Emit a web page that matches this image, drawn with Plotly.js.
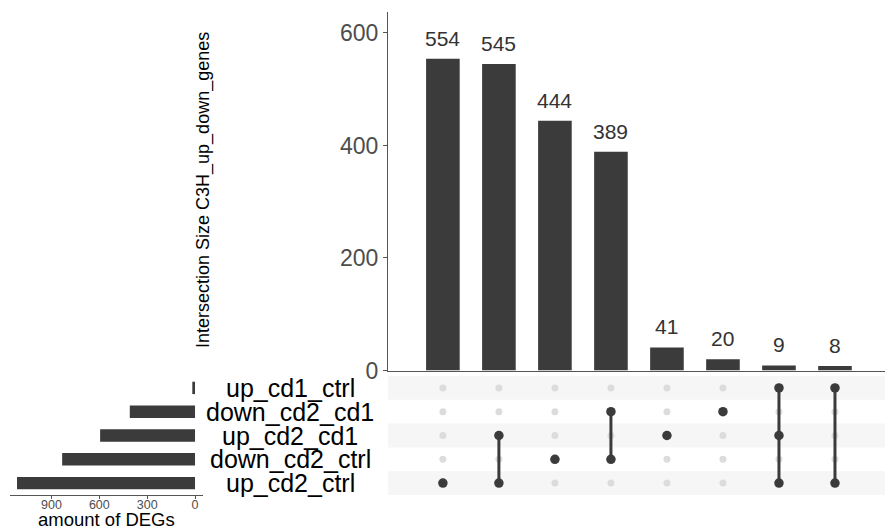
<!DOCTYPE html>
<html>
<head>
<meta charset="utf-8">
<script src="https://cdn.plot.ly/plotly-3.0.1.min.js"></script>
<style>
  html, body { margin: 0; padding: 0; background: #ffffff; }
  #chart { width: 885px; height: 530px; }
</style>
</head>
<body>
<div id="chart"></div>
<script>
// Sets, listed from the bottom row of the matrix to the top row
const sets = ['up_cd2_ctrl', 'down_cd2_ctrl', 'up_cd2_cd1', 'down_cd2_cd1', 'up_cd1_ctrl'];
const setSizes = [1116, 833, 595, 409, 17];

// Intersections, in the order they are drawn left to right
const intersectionSizes = [554, 545, 444, 389, 41, 20, 9, 8];
const intersectionMembers = [
  ['up_cd2_ctrl'],
  ['up_cd2_cd1', 'up_cd2_ctrl'],
  ['down_cd2_ctrl'],
  ['down_cd2_cd1', 'down_cd2_ctrl'],
  ['up_cd2_cd1'],
  ['down_cd2_cd1'],
  ['up_cd1_ctrl', 'up_cd2_cd1', 'up_cd2_ctrl'],
  ['up_cd1_ctrl', 'up_cd2_ctrl']
];

const sizeTicks = [0, 300, 600, 900];
const countTicks = [0, 200, 400, 600];

const FONT = 'Liberation Sans, Arial, Helvetica, sans-serif';
const DARK = '#3b3b3b';
const EMPTY_DOT = '#dcdcdc';
const STRIPE = '#f6f6f6';

const cols = intersectionSizes.map((_, i) => i);
const rows = sets.map((_, i) => i);

// Panel geometry in paper units
const W = 885, H = 530;
const xDom = [388 / W, 1];
const yBarDom = [1 - 370.5 / H, 1 - 12 / H];
const yMatDom = [1 - 495 / H, 1 - 376 / H];
const xSetDom = [10 / W, 203 / W];
const colRange = [-0.98, 7.893];
const rowRange = [-0.5, 4.5];

// Matrix dots: grey for every cell, dark for members
const emptyX = [], emptyY = [];
const fullX = [], fullY = [];
const lineX = [], lineY = [];
intersectionMembers.forEach((members, c) => {
  const idx = members.map(m => sets.indexOf(m));
  rows.forEach(r => {
    if (idx.includes(r)) { fullX.push(c); fullY.push(r); }
    else { emptyX.push(c); emptyY.push(r); }
  });
  if (idx.length > 1) {
    lineX.push(c, c, null);
    lineY.push(Math.min(...idx), Math.max(...idx), null);
  }
});

const traces = [
  {
    type: 'bar', x: cols, y: intersectionSizes,
    xaxis: 'x', yaxis: 'y',
    marker: { color: DARK }, width: 0.6,
    hoverinfo: 'skip', showlegend: false
  },
  {
    type: 'scatter', mode: 'markers', x: emptyX, y: emptyY,
    xaxis: 'x2', yaxis: 'y2',
    marker: { color: EMPTY_DOT, size: 7 },
    hoverinfo: 'skip', showlegend: false
  },
  {
    type: 'scatter', mode: 'lines', x: lineX, y: lineY,
    xaxis: 'x2', yaxis: 'y2',
    line: { color: DARK, width: 3 }, connectgaps: false,
    hoverinfo: 'skip', showlegend: false
  },
  {
    type: 'scatter', mode: 'markers', x: fullX, y: fullY,
    xaxis: 'x2', yaxis: 'y2',
    marker: { color: DARK, size: 9.5 },
    hoverinfo: 'skip', showlegend: false
  },
  {
    type: 'bar', orientation: 'h', x: setSizes, y: rows,
    xaxis: 'x3', yaxis: 'y3',
    marker: { color: DARK }, width: 0.52,
    hoverinfo: 'skip', showlegend: false
  }
];

// Light stripes behind alternate matrix rows
const shapes = rows.filter(r => r % 2 === 0).map(r => ({
  type: 'rect', layer: 'below',
  xref: 'paper', x0: xDom[0], x1: 1,
  yref: 'y2', y0: r - 0.5, y1: r + 0.5,
  fillcolor: STRIPE, line: { width: 0 }
}));

const annotations = [];
// Counts over the intersection bars
intersectionSizes.forEach((v, i) => {
  annotations.push({
    xref: 'x', yref: 'y', x: i, y: v,
    text: String(v), showarrow: false,
    yanchor: 'bottom', yshift: 7,
    font: { family: FONT, size: 21, color: '#333333' }
  });
});
// Set names between the size bars and the matrix
sets.forEach((s, r) => {
  annotations.push({
    xref: 'paper', yref: 'y3', x: 290 / W, y: r,
    text: s, showarrow: false, xanchor: 'center', yanchor: 'middle',
    font: { family: FONT, size: 25, color: '#000000' }
  });
});
// Axis titles
annotations.push({
  xref: 'paper', yref: 'paper', x: 204 / W, y: 1 - 190 / H,
  text: 'Intersection Size C3H_up_down_genes', textangle: -90,
  showarrow: false, xanchor: 'center', yanchor: 'middle',
  font: { family: FONT, size: 18, color: '#000000' }
});
annotations.push({
  xref: 'paper', yref: 'paper', x: 106 / W, y: 0,
  text: 'amount of DEGs', showarrow: false,
  xanchor: 'center', yanchor: 'bottom', yshift: -2,
  font: { family: FONT, size: 18.5, color: '#000000' }
});

const layout = {
  width: W, height: H,
  margin: { l: 0, r: 0, t: 0, b: 0, pad: 0 },
  paper_bgcolor: '#ffffff', plot_bgcolor: 'rgba(0,0,0,0)',
  font: { family: FONT },
  showlegend: false,
  xaxis: {
    domain: xDom, anchor: 'y', range: colRange,
    showticklabels: false, ticks: '', showgrid: false, zeroline: false,
    showline: true, linecolor: '#555555', linewidth: 1.5
  },
  yaxis: {
    domain: yBarDom, anchor: 'x', range: [0, 637.3],
    tickvals: countTicks, ticktext: countTicks.map(String),
    ticks: 'outside', ticklen: 4, tickcolor: '#555555', tickwidth: 1,
    tickfont: { family: FONT, size: 23, color: '#4d4d4d' },
    showgrid: false, zeroline: false,
    showline: true, linecolor: '#555555', linewidth: 1
  },
  xaxis2: {
    domain: xDom, anchor: 'y2', range: colRange,
    visible: false, showgrid: false, zeroline: false
  },
  yaxis2: {
    domain: yMatDom, anchor: 'x2', range: rowRange,
    visible: false, showgrid: false, zeroline: false
  },
  xaxis3: {
    domain: xSetDom, anchor: 'y3', range: [1160, -50],
    tickvals: sizeTicks, ticktext: sizeTicks.map(String),
    ticks: 'outside', ticklen: 3, tickcolor: '#555555', tickwidth: 1,
    ticklabelstandoff: -5,
    tickfont: { family: FONT, size: 12.5, color: '#4d4d4d' },
    showgrid: false, zeroline: false,
    showline: true, linecolor: '#555555', linewidth: 1
  },
  yaxis3: {
    domain: yMatDom, anchor: 'x3', range: rowRange,
    visible: false, showgrid: false, zeroline: false
  },
  shapes: shapes,
  annotations: annotations
};

Plotly.newPlot('chart', traces, layout, { staticPlot: true, displayModeBar: false });
</script>
</body>
</html>
